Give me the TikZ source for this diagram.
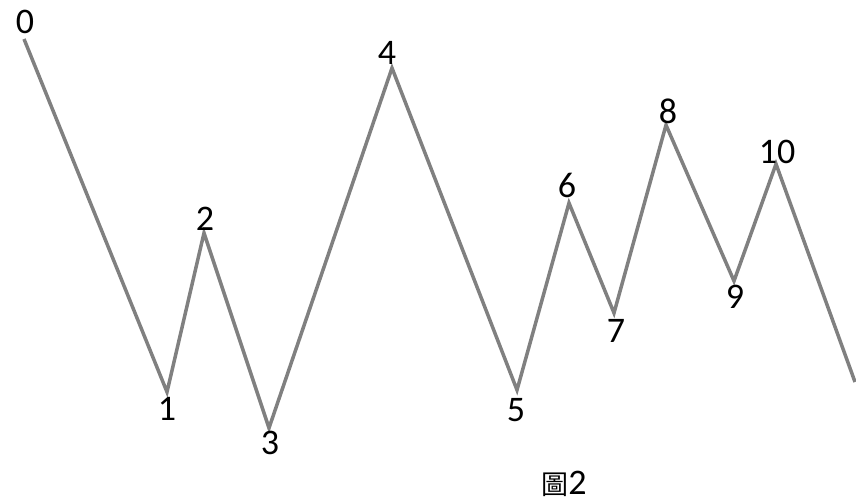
\documentclass[tikz,border=0pt]{standalone}
\usepackage{fontspec}
\setmainfont{Carlito}
\newfontfamily\cjkfont{Noto Sans CJK TC}
\begin{document}
\begin{tikzpicture}[x=1pt,y=-1pt,
  wave/.style={draw=black!50, line width=3.5pt, line join=miter},
  lbl/.style={inner sep=0pt, font=\fontsize{36}{40}\selectfont}]
\useasboundingbox (0,0) rectangle (856,502);
\coordinate (p0) at (24,39);
\coordinate (p1) at (167,392);
\coordinate (p2) at (204,233);
\coordinate (p3) at (269,428);
\coordinate (p4) at (392,68);
\coordinate (p5) at (517,390);
\coordinate (p6) at (569,203);
\coordinate (p7) at (614,313);
\coordinate (p8) at (666,125);
\coordinate (p9) at (734,281);
\coordinate (p10) at (776,164);
\coordinate (pend) at (855,382);
\draw[wave] (p0) -- (p1) -- (p2) -- (p3) -- (p4) -- (p5) -- (p6) -- (p7) -- (p8) -- (p9) -- (p10) -- (pend);
\node[lbl] (l0) at (25,22) {0};
\node[lbl] (l1) at (167,409) {1};
\node[lbl] (l2) at (205,219) {2};
\node[lbl] (l3) at (270,443) {3};
\node[lbl] (l4) at (387,53) {4};
\node[lbl] (l5) at (516,410) {5};
\node[lbl] (l6) at (567,185) {6};
\node[lbl] (l7) at (616,331) {7};
\node[lbl] (l8) at (668,111) {8};
\node[lbl] (l9) at (735,297) {9};
\node[lbl] (l10) at (777,152) {10};
\node[lbl, anchor=base] (cap) at (564,494) {{\cjkfont\fontsize{27}{30}\selectfont 圖}2};
\end{tikzpicture}
\end{document}
